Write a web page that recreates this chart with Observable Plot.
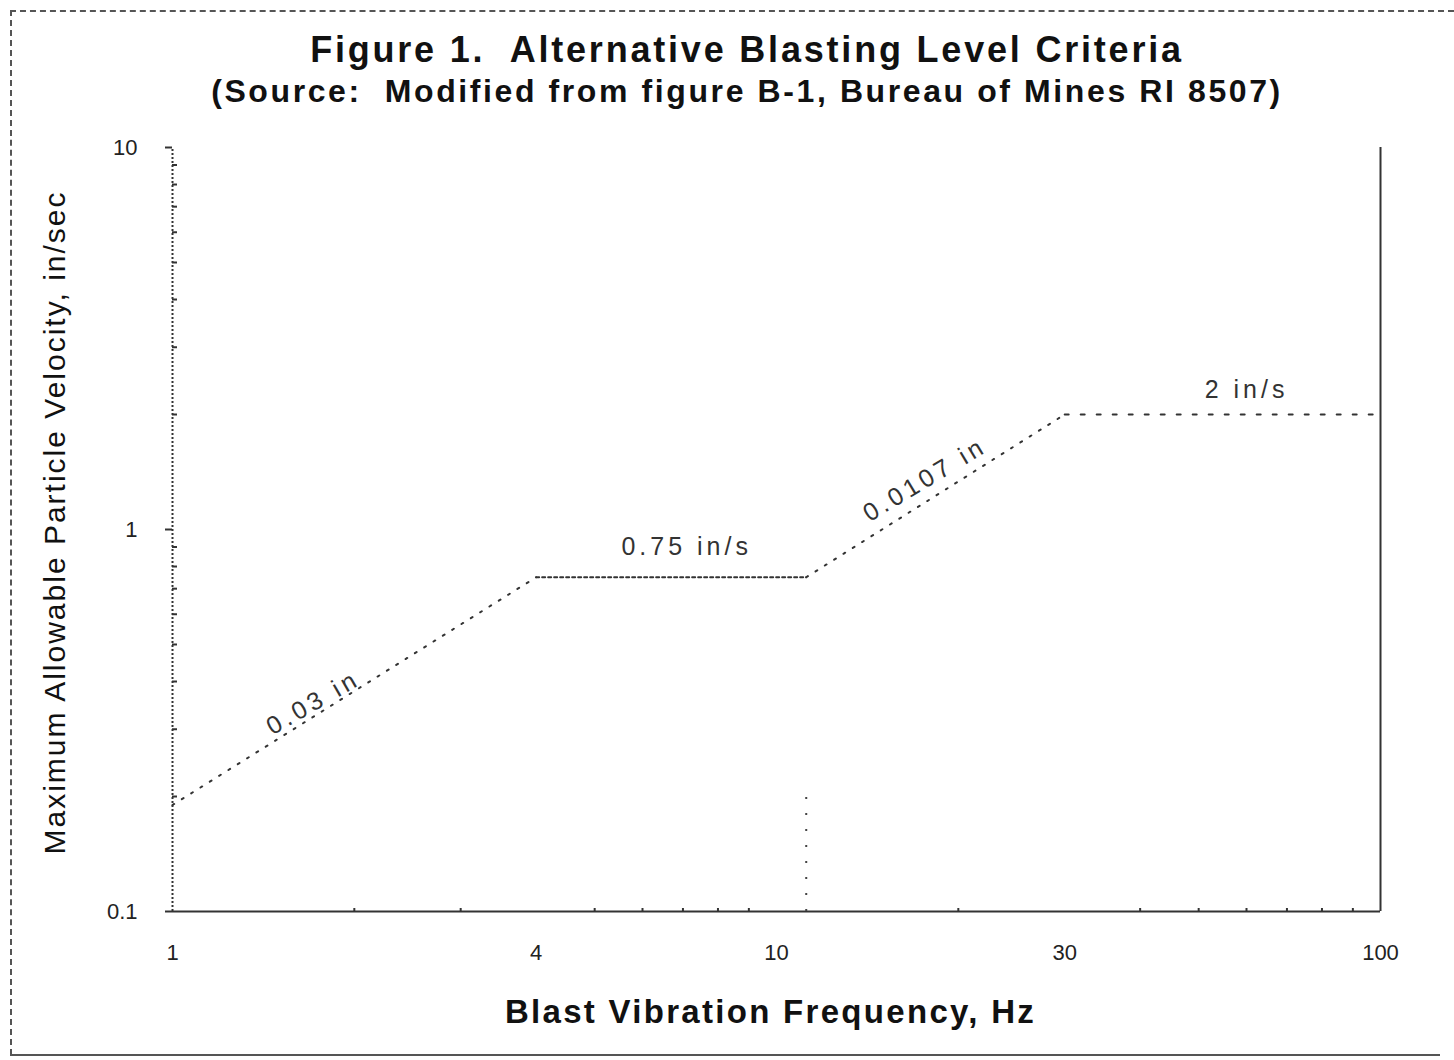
<!DOCTYPE html>
<html>
<head>
<meta charset="utf-8">
<script src="https://cdn.jsdelivr.net/npm/d3@7"></script>
<script src="https://cdn.jsdelivr.net/npm/@observablehq/plot@0.6"></script>
<style>
  html, body { margin: 0; padding: 0; background: #fff; }
  #wrap { position: relative; width: 1454px; height: 1060px; overflow: hidden; background: #fff; font-family: "Liberation Sans", Arial, sans-serif; color: #111; }
  .title { position: absolute; left: 40px; width: 1414px; text-align: center; font-weight: bold; white-space: pre; line-height: 1.15; }
  #t1 { top: 29px; font-size: 36px; letter-spacing: 2.8px; }
  #t2 { top: 73px; font-size: 32px; letter-spacing: 2.6px; }
  #chart { position: absolute; left: 0; top: 130px; }
  .bTop { position: absolute; left: 10px; top: 10px; width: 1444px; border-top: 2px dashed #555; }
  .bLeft { position: absolute; left: 10px; top: 10px; height: 1045px; border-left: 2px dashed #555; }
  .bBottom { position: absolute; left: 10px; top: 1054px; width: 1430px; border-top: 2px solid #555; }
</style>
</head>
<body>
<div id="wrap">
  <div class="bTop"></div><div class="bLeft"></div><div class="bBottom"></div>
  <div class="title" id="t1"></div>
  <div class="title" id="t2"></div>
  <div id="chart"></div>
</div>
<script>
// ---- data ----
const titleText = "Figure 1.  Alternative Blasting Level Criteria";
const subtitleText = "(Source:  Modified from figure B-1, Bureau of Mines RI 8507)";
const xLabel = "Blast Vibration Frequency, Hz";
const yLabel = "Maximum Allowable Particle Velocity, in/sec";

// breakpoints of the criteria curve (Hz, in/sec)
const freq = [1, 4, 11.2, 30, 100];
const velocity = [0.19, 0.75, 0.75, 2, 2];

// segment annotations
const segLabels = ["0.03 in", "0.75 in/s", "0.0107 in", "2 in/s"];
const labelFreq = [1.71, 7.1, 17.6, 60];
const labelVel = [0.352, 0.9, 1.35, 2.32];
const labelAngle = [-30, 0, -31, 0];

// vertical marker at the 0.75 / 0.0107 crossover
const markerFreq = [11.2];
const markerVel = [0.1, 0.21];

const xTicks = [1, 4, 10, 30, 100];
const yTicks = [0.1, 1, 10];
const xMinor = [2, 3, 5, 6, 7, 8, 9, 20, 40, 50, 60, 70, 80, 90];
const yMinor = [0.2, 0.3, 0.4, 0.5, 0.6, 0.7, 0.8, 0.9, 2, 3, 4, 5, 6, 7, 8, 9];

// ---- styles ----
const segDash = ["2,9", "3,3", "2,9", "4,12"];

document.getElementById("t1").textContent = titleText;
document.getElementById("t2").textContent = subtitleText;

const segMarks = segDash.map((dash, i) =>
  Plot.line([{f: freq[i], v: velocity[i]}, {f: freq[i + 1], v: velocity[i + 1]}],
    {x: "f", y: "v", stroke: "#333", strokeWidth: 2, strokeDasharray: dash})
);

const labelRows = segLabels.map((t, i) => ({t, f: labelFreq[i], v: labelVel[i], a: labelAngle[i]}));

const chart = Plot.plot({
  width: 1454,
  height: 930,
  marginLeft: 172,
  marginRight: 74,
  marginTop: 17,
  marginBottom: 149,
  style: {fontFamily: "'Liberation Sans', Arial, sans-serif", fontSize: "22px", background: "transparent", color: "#222", overflow: "visible"},
  x: {type: "log", domain: [1, 100]},
  y: {type: "log", domain: [0.1, 10]},
  marks: [
    // axis lines
    Plot.ruleX([1], {y1: 0.1, y2: 10, stroke: "#333", strokeWidth: 2, strokeDasharray: "2,2"}),
    Plot.ruleX([100], {y1: 0.1, y2: 10, stroke: "#333", strokeWidth: 2}),
    Plot.ruleY([0.1], {x1: 1, x2: 100, stroke: "#333", strokeWidth: 2}),
    Plot.axisY(yTicks, {anchor: "left", tickSize: 7, tickPadding: 28, tickFormat: d => String(d), label: null, stroke: "#333", strokeWidth: 2, fill: "#222"}),
    Plot.axisY(yMinor, {anchor: "left", tickSize: -5, tickFormat: () => "", label: null, stroke: "#333", strokeWidth: 2}),
    Plot.axisX(xTicks, {anchor: "bottom", tickSize: 0, tickPadding: 33, tickFormat: d => String(d), label: null, fill: "#222"}),
    Plot.axisX(xMinor, {anchor: "bottom", tickSize: -3, tickFormat: () => "", label: null, stroke: "#333", strokeWidth: 2}),
    // crossover marker
    Plot.ruleX(markerFreq, {y1: markerVel[0], y2: markerVel[1], stroke: "#444", strokeWidth: 2, strokeDasharray: "2,14"}),
    // criteria segments
    ...segMarks,
    // segment labels
    Plot.text(labelRows, {x: "f", y: "v", text: "t", rotate: "a", fontSize: 25, fill: "#333"}),
    // axis titles
    Plot.text([xLabel], {frameAnchor: "bottom", text: d => d, dy: 101, dx: -6, textAnchor: "middle", lineAnchor: "middle", fontSize: 33, fontWeight: "bold", fill: "#111"}),
    Plot.text([yLabel], {frameAnchor: "left", text: d => d, dx: -117, dy: -7, rotate: -90, textAnchor: "middle", lineAnchor: "middle", fontSize: 30, fill: "#111"})
  ]
});

// letter spacing to match the wide, scanned lettering
const spacing = new Map([[xLabel, "2.3px"], [yLabel, "2px"]]);
segLabels.forEach(s => spacing.set(s, "4px"));
d3.select(chart).selectAll("text").each(function() {
  const s = spacing.get(this.textContent);
  if (s) this.style.letterSpacing = s;
});
document.getElementById("chart").appendChild(chart);
</script>
</body>
</html>
